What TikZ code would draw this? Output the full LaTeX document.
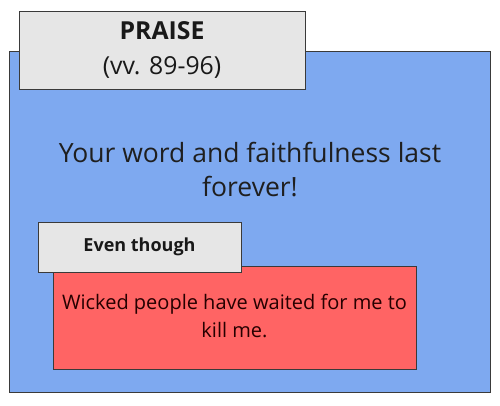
\documentclass[tikz,border=0pt]{standalone}
\usepackage{fontspec}
\setmainfont{Open Sans}
\usepackage{tikz}

\definecolor{box_blue}{HTML}{7EA9F0}
\definecolor{box_gray}{HTML}{E6E6E6}
\definecolor{box_red}{HTML}{FF6464}
\definecolor{box_line}{HTML}{3A3A3A}

\begin{document}
\begin{tikzpicture}[
    x=1pt, y=1pt,
    frame_box/.style={rectangle,draw=box_line,line width=0.9pt,inner sep=0pt},
    title_box/.style={frame_box,fill=box_gray,align=center,text=black!90},
    body_text/.style={align=center,text=black!88}
  ]
    \useasboundingbox (0,0) rectangle (500,405);
    % outer section
    \node[frame_box,fill=box_blue,minimum width=481pt,minimum height=341pt] (praise_area) at (249.5,183.5) {};
    \node[title_box,minimum width=286pt,minimum height=78pt,font={\fontsize{24.8}{35}\selectfont}] (praise_title) at (162,355)
      {\textbf{PRAISE}\\(vv. 89-96)};
    \node[body_text,font={\fontsize{26.5}{34}\selectfont}] (praise_text) at (250,235)
      {Your word and faithfulness last\\forever!};
    % inner section
    \node[frame_box,fill=box_red,minimum width=363pt,minimum height=103pt] (wicked_area) at (234.5,87.5) {};
    \node[title_box,minimum width=203pt,minimum height=50pt,font={\fontsize{18}{22}\selectfont\bfseries}] (even_title) at (139.5,158)
      {Even though};
    \node[body_text,text=black!85!red,font={\fontsize{20}{28}\selectfont}] (wicked_text) at (234.5,89)
      {Wicked people have waited for me to\\kill me.};
  \end{tikzpicture}
\end{document}
